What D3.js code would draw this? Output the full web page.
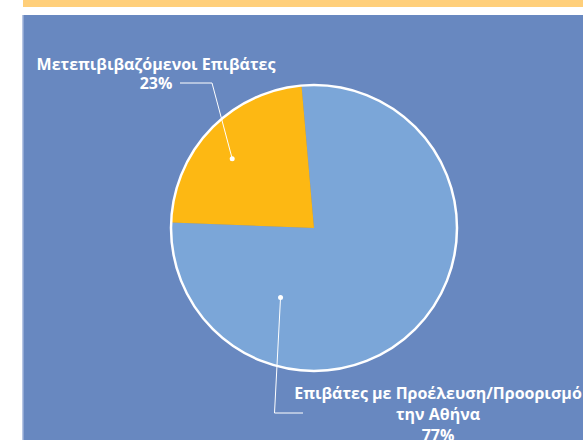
<!DOCTYPE html>
<html>
<head>
  <meta charset="utf-8"/>
  <style>
    body { margin: 0; background: #fff; overflow: hidden; }
    svg { display: block; }
    text { font-family: 'Open Sans', sans-serif; font-weight: 700; fill: #fff; }
  </style>
</head>
<body>
  <div id="chart"></div>
  <script src="https://d3js.org/d3.v7.min.js"></script>
  <script>
    let categories = ['Επιβάτες με Προέλευση/Προορισμό την Αθήνα', 'Μετεπιβιβαζόμενοι Επιβάτες'];
    let values = [77, 23];
    let labelLines = [['Επιβάτες με Προέλευση/Προορισμό', 'την Αθήνα', '77%'],
                      ['Μετεπιβιβαζόμενοι Επιβάτες', '23%']];
    let colors = ['#7ba6d8', '#fdb813'];

    let width = 583, height = 440,
        cx = 314, cy = 228, radius = 143;

    let svg = d3.select('#chart')
        .append('svg')
        .attr('width', width)
        .attr('height', height);

    // top strip and panel
    svg.append('rect').attr('x', 23).attr('y', 0).attr('width', width - 23).attr('height', 7).attr('fill', '#ffcf7a');
    svg.append('rect').attr('x', 22).attr('y', 15).attr('width', width - 22).attr('height', height - 15).attr('fill', '#6888c0');
    svg.append('rect').attr('x', 22).attr('y', 15).attr('width', 1.5).attr('height', height - 15).attr('fill', '#b7c6e3');

    let pie = d3.pie().sort(null)
        .startAngle(-5 * Math.PI / 180)
        .endAngle(355 * Math.PI / 180);
    let arc = d3.arc().innerRadius(0).outerRadius(radius);

    let g = svg.append('g').attr('transform', 'translate(' + cx + ',' + cy + ')');
    let arcs = pie(values);

    g.selectAll('path.slice')
        .data(arcs)
        .enter()
        .append('path')
        .attr('class', 'slice')
        .attr('fill', (d, i) => colors[i])
        .attr('d', arc);

    g.append('circle').attr('r', radius).attr('fill', 'none').attr('stroke', '#fff').attr('stroke-width', 2.5);

    // leader lines: anchor inside slice -> elbow -> label
    let anchorAt = [{t: 0.76, r: 0.54}, {t: 0.46, r: 0.75}];
    let leaders = [
      {elbow: [274.5, 413], end: [303, 413]},
      {elbow: [212, 83], end: [180, 83]}
    ];
    let labelPos = [[438, 399], [156, 70]];
    let lineGap = [21, 19];

    arcs.forEach(function (d, i) {
      let a = d.startAngle + anchorAt[i].t * (d.endAngle - d.startAngle),
          rr = anchorAt[i].r * radius;
      let p = [cx + rr * Math.sin(a), cy - rr * Math.cos(a)];
      svg.append('polyline')
          .attr('points', [p, leaders[i].elbow, leaders[i].end].map(q => q.join(',')).join(' '))
          .attr('fill', 'none')
          .attr('stroke', '#fff')
          .attr('stroke-width', 1);
      svg.append('circle').attr('cx', p[0]).attr('cy', p[1]).attr('r', 2.5).attr('fill', '#fff');

      let t = svg.append('text')
          .attr('x', labelPos[i][0])
          .attr('y', labelPos[i][1])
          .attr('text-anchor', 'middle')
          .attr('font-size', 16);
      labelLines[i].forEach(function (line, j) {
        t.append('tspan').attr('x', labelPos[i][0]).attr('dy', j === 0 ? 0 : lineGap[i]).text(line);
      });
    });
  </script>
</body>
</html>
